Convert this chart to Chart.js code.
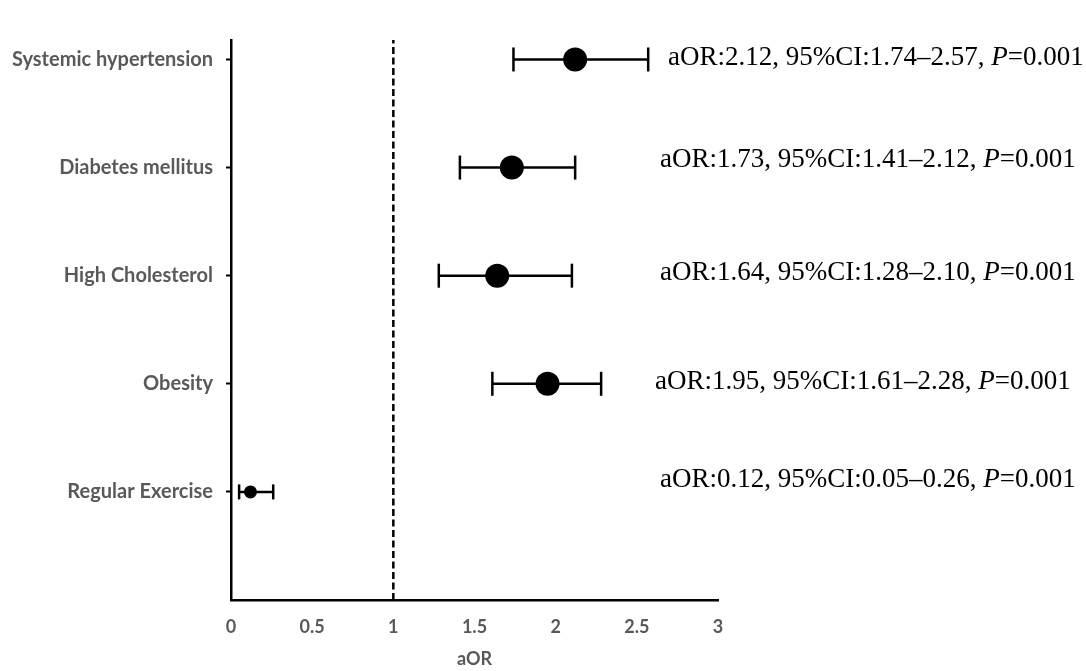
<!DOCTYPE html>
<html><head><meta charset="utf-8">
<script src="https://cdn.jsdelivr.net/npm/chart.js@4.4.1/dist/chart.umd.min.js"></script>
<style>html,body{margin:0;padding:0;background:#fff}</style>
</head><body>
<canvas id="c" width="1086" height="671"></canvas>
<script>
// ---- data ----
const categories = ["Systemic hypertension", "Diabetes mellitus", "High Cholesterol", "Obesity", "Regular Exercise"];
const rowPositions = [5, 4, 3, 2, 1];
const aOR = [2.12, 1.73, 1.64, 1.95, 0.12];
const ciLow = [1.74, 1.41, 1.28, 1.61, 0.05];
const ciHigh = [2.57, 2.12, 2.10, 2.28, 0.26];
const pValues = ["0.001", "0.001", "0.001", "0.001", "0.001"];
const xTickValues = [0, 0.5, 1, 1.5, 2, 2.5, 3];
const referenceValue = 1;
const xTitle = "aOR";

// ---- styling (not data) ----
const markerRadius = [12, 12, 12, 12, 6.5];
const capRadius = [12, 12, 12, 12, 7.5];
const annLeftOffset = [-50, -58, -58, -63, -58];   // relative to chart area right
const annDy = [-2, -8, -3, -2, -12];
const Y_MAX = 5.18;
const GRAY = '#595959';

const datasets = [];
datasets.push({
  type: 'line',
  data: [{x: referenceValue, y: 0}, {x: referenceValue, y: Y_MAX}],
  borderColor: '#000', borderWidth: 2.5, borderDash: [7, 3.5],
  pointRadius: 0, fill: false
});
categories.forEach((c, i) => {
  datasets.push({
    type: 'line',
    data: [{x: ciLow[i], y: rowPositions[i]}, {x: ciHigh[i], y: rowPositions[i]}],
    borderColor: '#000', borderWidth: 2.5, fill: false,
    pointStyle: 'line', pointRotation: 90, pointRadius: capRadius[i],
    pointBorderWidth: 2.5, pointBorderColor: '#000', pointHoverRadius: capRadius[i]
  });
});
datasets.push({
  type: 'scatter',
  data: categories.map((c, i) => ({x: aOR[i], y: rowPositions[i]})),
  backgroundColor: '#000', borderColor: '#000', borderWidth: 0,
  pointRadius: markerRadius, pointHoverRadius: markerRadius
});

const annotationPlugin = {
  id: 'ann',
  afterDatasetsDraw(chart) {
    const ctx = chart.ctx;
    const ys = chart.scales.y;
    const right = chart.chartArea.right;
    ctx.save();
    ctx.fillStyle = '#000';
    ctx.textBaseline = 'middle';
    ctx.textAlign = 'left';
    categories.forEach((c, i) => {
      const y = ys.getPixelForValue(rowPositions[i]) + annDy[i];
      let x = right + annLeftOffset[i];
      const part1 = 'aOR:' + aOR[i].toFixed(2) + ', 95%CI:' + ciLow[i].toFixed(2) + '\u2013' + ciHigh[i].toFixed(2) + ', ';
      ctx.font = '27px "Liberation Serif", "Times New Roman", serif';
      ctx.fillText(part1, x, y); x += ctx.measureText(part1).width;
      ctx.font = 'italic 27px "Liberation Serif", "Times New Roman", serif';
      ctx.fillText('P', x, y); x += ctx.measureText('P').width;
      ctx.font = '27px "Liberation Serif", "Times New Roman", serif';
      ctx.fillText('=' + pValues[i], x, y);
    });
    ctx.restore();
  }
};

new Chart(document.getElementById('c'), {
  data: {datasets},
  plugins: [annotationPlugin],
  options: {
    responsive: false,
    animation: false,
    clip: false,
    layout: {padding: {top: 40, right: 368, left: 0, bottom: 0}},
    plugins: {legend: {display: false}, tooltip: {enabled: false}},
    scales: {
      x: {
        type: 'linear', min: 0, max: 3,
        afterBuildTicks: (s) => { s.ticks = xTickValues.map(v => ({value: v})); },
        afterFit: (s) => { s.height = 71; },
        grid: {drawOnChartArea: false, drawTicks: false},
        border: {color: '#000', width: 2.5},
        ticks: {color: GRAY, font: {family: 'Lato', weight: 'bold', size: 18}, padding: 16,
                callback: (v) => String(v)},
        title: {display: true, text: xTitle, color: GRAY, font: {family: 'Lato', weight: 'bold', size: 18},
                padding: {top: 0, bottom: 1}}
      },
      y: {
        type: 'linear', min: 0, max: Y_MAX,
        afterBuildTicks: (s) => { s.ticks = rowPositions.map(v => ({value: v})); },
        afterFit: (s) => { s.width = 231; },
        grid: {drawOnChartArea: false, drawTicks: true, tickLength: 5, tickColor: '#000', tickWidth: 2},
        border: {color: '#000', width: 2.5},
        ticks: {color: GRAY, font: {family: 'Lato', weight: 'bold', size: 20}, padding: 13,
                callback: (v) => categories[rowPositions.indexOf(v)] || ''}
      }
    }
  }
});
</script>
</body></html>
